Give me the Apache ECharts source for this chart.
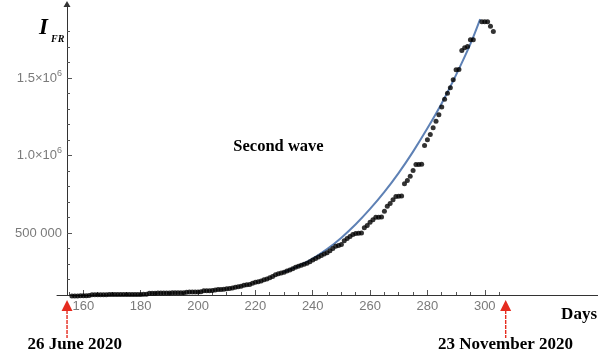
<!DOCTYPE html>
<html><head><meta charset="utf-8">
<script src="https://cdn.jsdelivr.net/npm/echarts@6/dist/echarts.min.js"></script>
<style>html,body{margin:0;padding:0;background:#fff}#c{width:598px;height:358px}</style>
</head><body><div id="c"></div>
<script>
// ---- data ----
const days = [156,157,158,159,160,161,162,163,164,165,166,167,168,169,170,171,172,173,174,175,176,177,178,179,180,181,182,183,184,185,186,187,188,189,190,191,192,193,194,195,196,197,198,199,200,201,202,203,204,205,206,207,208,209,210,211,212,213,214,215,216,217,218,219,220,221,222,223,224,225,226,227,228,229,230,231,232,233,234,235,236,237,238,239,240,241,242,243,244,245,246,247,248,249,250,251,252,253,254,255,256,257,258,259,260,261,262,263,264,265,266,267,268,269,270,271,272,273,274,275,276,277,278,279,280,281,282,283,284,285,286,287,288,289,290,291,292,293,294,295,296,299,300,301,302,303];
const infected = [94000,94000,94000,95000,95000,95000,96000,101000,101000,102000,102000,102000,102000,103000,103000,103000,103000,103000,103000,104000,104000,104000,104000,104000,104000,105000,105000,112000,112000,112000,113000,113000,113000,113000,113000,114000,114000,114000,114000,115000,118000,119000,119000,120000,120000,121000,127000,127000,128000,129000,133000,135000,136000,137000,140000,142000,145000,150000,153000,157000,163000,166000,168000,175000,182000,186000,191000,198000,204000,212000,220000,230000,237000,242000,247000,255000,262000,270000,279000,286000,292000,299000,305000,315000,326000,335000,345000,355000,365000,372000,385000,400000,415000,420000,426000,450000,465000,478000,490000,497000,499000,500000,534000,548000,570000,585000,602000,602000,603000,641000,673000,690000,714000,735000,737000,738000,817000,839000,866000,903000,942000,942000,943000,1065000,1101000,1135000,1179000,1221000,1263000,1312000,1363000,1402000,1437000,1488000,1553000,1555000,1677000,1695000,1703000,1746000,1746000,1863000,1863000,1863000,1834000,1800000];
const fitDays = [229.7,235,240,245,250,255,260,265,270,275,280,285,290,295,298.4];
const fitValues = [247000,287000,335000,396000,470000,556000,655000,765000,888000,1025000,1175000,1337000,1520000,1720000,1880000];
const xLabelTicks = [160,180,200,220,240,260,280,300];
const xMinorTicks = [155,165,170,175,185,190,195,205,210,215,225,230,235,245,250,255,265,270,275,285,290,295,305];
const yLabelTicks = [500000,1000000,1500000];
const yMinorTicks = [200000,300000,400000,600000,700000,800000,900000,1100000,1200000,1300000,1400000,1600000,1700000,1800000];
const arrowDays = [154.3, 307.3];
const dateLabels = ['26 June 2020', '23 November 2020'];
const xRange = [150.8, 339.5];
const yRange = [100000, 1977000];

const chart = echarts.init(document.getElementById('c'), null, {renderer: 'canvas'});
const AX = '#333', TICK = '#555', LBL = '#7a7a7a';
const sans = 'Liberation Sans, Arial, sans-serif';
const serif = 'Liberation Serif, Times New Roman, serif';

const option = {
  animation: false,
  backgroundColor: '#fff',
  grid: {left: 57, right: 0, top: 4, bottom: 63, containLabel: false},
  xAxis: [{
    type: 'value', min: xRange[0], max: xRange[1], position: 'bottom',
    axisLine: {show: true, onZero: false, lineStyle: {color: AX, width: 1}},
    axisTick: {show: true, inside: true, length: 5, customValues: xLabelTicks, lineStyle: {color: TICK}},
    axisLabel: {show: true, customValues: xLabelTicks, color: LBL, fontSize: 13, fontFamily: sans, margin: 5},
    splitLine: {show: false}
  }, {
    type: 'value', min: xRange[0], max: xRange[1], position: 'bottom',
    axisLine: {show: false},
    axisTick: {show: true, inside: true, length: 3, customValues: xMinorTicks, lineStyle: {color: TICK}},
    axisLabel: {show: false},
    splitLine: {show: false}
  }],
  yAxis: [{
    type: 'value', min: yRange[0], max: yRange[1], position: 'left', offset: -10,
    axisLine: {show: true, onZero: false, symbol: ['none', 'triangle'], symbolSize: [7, 6], lineStyle: {color: AX, width: 1}},
    axisTick: {show: true, inside: true, length: 5, customValues: yLabelTicks, lineStyle: {color: TICK}},
    axisLabel: {
      show: true, customValues: yLabelTicks, color: LBL, fontSize: 13, fontFamily: sans, margin: 5,
      formatter: function (v) {
        if (v < 1000000) return '{m|' + String(v).replace(/(\d{3})$/, ' $1') + '}';
        return '{m|' + (v / 1e6).toFixed(1) + '×10}{s|6}';
      },
      rich: {
        m: {fontSize: 13, color: LBL, fontFamily: sans},
        s: {fontSize: 9, color: LBL, fontFamily: sans, padding: [0, 0, 9, 0]}
      }
    },
    splitLine: {show: false}
  }, {
    type: 'value', min: yRange[0], max: yRange[1], position: 'left', offset: -10,
    axisLine: {show: false},
    axisTick: {show: true, inside: true, length: 3, customValues: yMinorTicks, lineStyle: {color: TICK}},
    axisLabel: {show: false},
    splitLine: {show: false}
  }],
  series: [{
    type: 'line', xAxisIndex: 0, yAxisIndex: 0,
    data: fitDays.map((d, i) => [d, fitValues[i]]),
    smooth: 0.3, showSymbol: false, symbol: 'none',
    lineStyle: {color: '#5E81B5', width: 2}, z: 2
  }, {
    type: 'scatter', xAxisIndex: 0, yAxisIndex: 0, clip: false,
    data: days.map((d, i) => [d, infected[i]]),
    symbol: 'circle', symbolSize: 5,
    itemStyle: {color: '#000'}, z: 3
  }]
};
chart.setOption(option);

const red = '#e52b1f';
const graphics = [
  {type: 'text', x: 39, y: 28, style: {text: 'I', font: 'italic bold 23px ' + serif, fill: '#000', align: 'left', verticalAlign: 'middle'}},
  {type: 'text', x: 51, y: 39.5, style: {text: 'FR', font: 'italic bold 10px ' + serif, fill: '#000', align: 'left', verticalAlign: 'middle'}},
  {type: 'text', x: 278.5, y: 147, style: {text: 'Second wave', font: 'bold 16.5px ' + serif, fill: '#000', align: 'center', verticalAlign: 'middle'}},
  {type: 'text', x: 597, y: 315, style: {text: 'Days', font: 'bold 17px ' + serif, fill: '#000', align: 'right', verticalAlign: 'middle'}},
  {type: 'text', x: 122, y: 345, style: {text: dateLabels[0], font: 'bold 17px ' + serif, fill: '#000', align: 'right', verticalAlign: 'middle'}},
  {type: 'text', x: 438, y: 345, style: {text: dateLabels[1], font: 'bold 17px ' + serif, fill: '#000', align: 'left', verticalAlign: 'middle'}}
];
arrowDays.forEach(function (d) {
  const px = chart.convertToPixel({xAxisIndex: 0}, d);
  graphics.push({type: 'polygon', shape: {points: [[px - 5.5, 311], [px + 5.5, 311], [px, 300]]}, style: {fill: red}});
  graphics.push({type: 'line', shape: {x1: px, y1: 310, x2: px, y2: 338}, style: {stroke: red, lineWidth: 1.4, lineDash: [4, 1]}});
});
chart.setOption({graphic: graphics});
</script>
</body></html>
